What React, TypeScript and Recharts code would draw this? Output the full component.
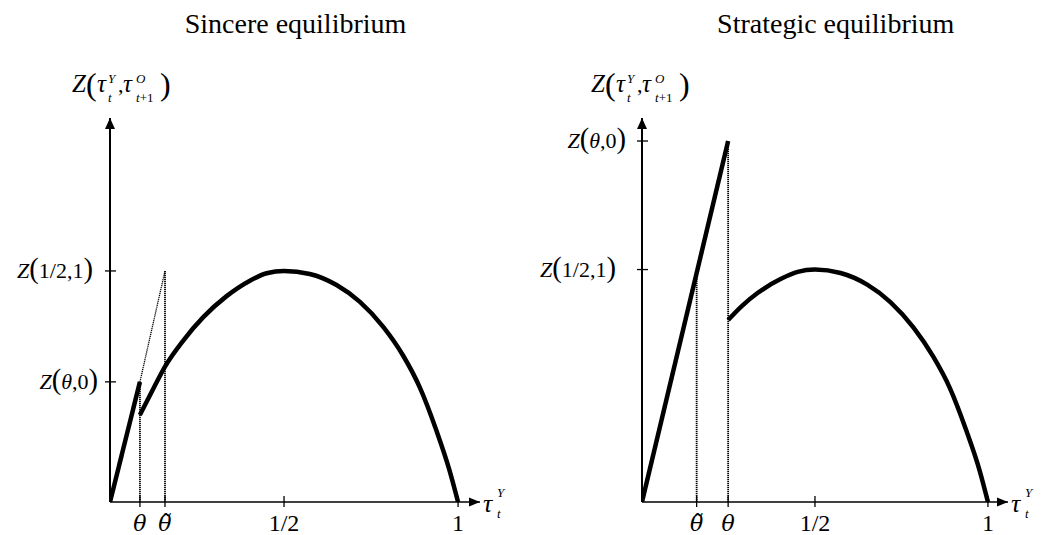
import React from 'react'
import { LineChart, Line, XAxis, YAxis, ReferenceDot } from 'recharts'

const FONT = '"Liberation Serif", "Times New Roman", serif'
const GREEK_FONT = '"DejaVu Serif", "Liberation Serif", serif'

// Sincere equilibrium (left panel)
const sincereXTicks = [0.086, 0.158, 0.5, 1]
const sincereXLabels = ['θ', 'θ̃', '1/2', '1']
const sincereYTicks = [0.52, 1]
const sincereYLabels = ['Z(θ,0)', 'Z(1/2,1)']
const sincereRiseX = [0, 0.086]
const sincereRiseZ = [0, 0.52]
const sincereGuideX = [0.086, 0.158]
const sincereGuideZ = [0.52, 1]
const sincereDropX = [0.086, 0.158]
const sincereDropTop = [0.52, 1]
const sincereCurveX = [0.086, 0.124, 0.158, 0.211, 0.268, 0.335, 0.402, 0.45, 0.5, 0.574, 0.651, 0.718, 0.785, 0.842, 0.89, 0.938, 0.976, 1]
const sincereCurveZ = [0.377, 0.489, 0.586, 0.7, 0.8, 0.891, 0.958, 0.99, 1, 0.987, 0.939, 0.866, 0.758, 0.634, 0.496, 0.308, 0.134, 0]

// Strategic equilibrium (right panel)
const strategicXTicks = [0.158, 0.249, 0.5, 1]
const strategicXLabels = ['θ̃', 'θ', '1/2', '1']
const strategicYTicks = [1.553, 1]
const strategicYLabels = ['Z(θ,0)', 'Z(1/2,1)']
const strategicRiseX = [0, 0.249]
const strategicRiseZ = [0, 1.553]
const strategicDropX = [0.158, 0.249]
const strategicDropTop = [0.985, 1.553]
const strategicCurveX = [0.249, 0.29, 0.335, 0.402, 0.45, 0.5, 0.574, 0.651, 0.718, 0.785, 0.842, 0.89, 0.938, 0.976, 1]
const strategicCurveZ = [0.783, 0.845, 0.9, 0.96, 0.99, 1, 0.985, 0.935, 0.86, 0.75, 0.625, 0.49, 0.305, 0.135, 0]

const pts = (xs: number[], zs: number[]) => xs.map((x, i) => ({ x, z: zs[i] }))

function MathText({ x, y, anchor, text, size = 22 }: any) {
  return (
    <text x={x} y={y} textAnchor={anchor} fontFamily={FONT} fontSize={size} fill="#000">
      {Array.from(text as string).map((c, i) => {
        if (c === '(' || c === ')') return <tspan key={i} fontSize={size * 1.3}>{c}</tspan>
        if (c === 'Z' || c === 'θ') return <tspan key={i} fontStyle="italic">{c}</tspan>
        return <tspan key={i}>{c}</tspan>
      })}
    </text>
  )
}

function YTick(props: any) {
  const { x, y, index, labels, gaps } = props
  return (
    <g>
      <line x1={x - 5} x2={x + 6} y1={y} y2={y} stroke="#000" strokeWidth={1.3} />
      <MathText x={x - gaps[index]} y={y + 7} anchor="end" text={labels[index]} />
    </g>
  )
}

function XTick(props: any) {
  const { x, y, index, labels } = props
  const label: string = labels[index]
  const greek = label.startsWith('θ')
  return (
    <g>
      <line x1={x} x2={x} y1={y - 6} y2={y + 5} stroke="#000" strokeWidth={1.3} />
      <text x={x} y={y + 29} textAnchor="middle" fontFamily={greek ? GREEK_FONT : FONT}
        fontSize={greek ? 22 : 24} fontStyle={greek ? 'italic' : 'normal'} fill="#000">{label}</text>
    </g>
  )
}

const XArrow = (p: any) => {
  const { cx, cy } = p
  return (
    <g fontFamily={FONT} fill="#000">
      <path d={`M${cx},${cy} l-11,-4.5 l0,9 z`} />
      <text x={cx + 3} y={cy + 10} fontSize={26} fontStyle="italic">τ</text>
      <text x={cx + 17} y={cy - 5} fontSize={13} fontStyle="italic">Y</text>
      <text x={cx + 17} y={cy + 16} fontSize={13} fontStyle="italic">t</text>
    </g>
  )
}

const makeYArrow = (dx: number) => (p: any) => {
  const { cx, cy } = p
  const x = cx + dx
  return (
    <g fontFamily={FONT} fill="#000">
      <path d={`M${cx},${cy} l-5,11 l10,0 z`} />
      <text x={x - 38} y={cy - 26} fontSize={25} fontStyle="italic">Z</text>
      <text x={x - 24} y={cy - 23} fontSize={32}>(</text>
      <text x={x - 13} y={cy - 26} fontSize={25} fontStyle="italic">τ</text>
      <text x={x - 2} y={cy - 35} fontSize={13} fontStyle="italic">Y</text>
      <text x={x - 2} y={cy - 16} fontSize={13} fontStyle="italic">t</text>
      <text x={x + 8} y={cy - 26} fontSize={22}>,</text>
      <text x={x + 13} y={cy - 26} fontSize={25} fontStyle="italic">τ</text>
      <text x={x + 26} y={cy - 35} fontSize={13} fontStyle="italic">O</text>
      <text x={x + 26} y={cy - 16} fontSize={13}><tspan fontStyle="italic">t</tspan>+1</text>
      <text x={x + 50} y={cy - 23} fontSize={32}>)</text>
    </g>
  )
}

interface PanelProps {
  yAxisWidth: number
  marginRight: number
  xMax: number
  yMax: number
  xTicks: number[]
  xLabels: string[]
  yTicks: number[]
  yLabels: string[]
  yGaps: number[]
  titleDx: number
  rise: { x: number; z: number }[]
  guide?: { x: number; z: number }[]
  drops: { x: number; z: number }[][]
  curve: { x: number; z: number }[]
}

function Panel(p: PanelProps) {
  const thick = { stroke: '#000', strokeWidth: 4.5, dot: false, activeDot: false, isAnimationActive: false }
  const dotted = { stroke: '#000', strokeWidth: 1.8, strokeDasharray: '1.2 0.8', dot: false, activeDot: false, isAnimationActive: false }
  return (
    <LineChart width={522} height={535} margin={{ top: 118, right: p.marginRight, bottom: 0, left: 0 }}>
      <XAxis
        type="number"
        dataKey="x"
        domain={[0, p.xMax]}
        allowDataOverflow
        ticks={p.xTicks}
        interval={0}
        height={33}
        tickSize={0}
        tickMargin={0}
        axisLine={{ stroke: '#000', strokeWidth: 1.5 }}
        tick={(t: any) => <XTick {...t} labels={p.xLabels} />}
      />
      <YAxis
        type="number"
        dataKey="z"
        domain={[0, p.yMax]}
        allowDataOverflow
        ticks={p.yTicks}
        interval={0}
        width={p.yAxisWidth}
        tickSize={0}
        tickMargin={0}
        axisLine={{ stroke: '#000', strokeWidth: 2 }}
        tick={(t: any) => <YTick {...t} labels={p.yLabels} gaps={p.yGaps} />}
      />
      {p.drops.map((d, i) => (
        <Line key={'d' + i} data={d} dataKey="z" type="linear" {...dotted} />
      ))}
      {p.guide && <Line data={p.guide} dataKey="z" type="linear" {...dotted} strokeWidth={1.3} />}
      <Line data={p.rise} dataKey="z" type="linear" {...thick} />
      <Line data={p.curve} dataKey="z" type="monotone" {...thick} />
      <ReferenceDot x={p.xMax} y={0} r={0} ifOverflow="visible" shape={XArrow} />
      <ReferenceDot x={0} y={p.yMax} r={0} ifOverflow="visible" shape={makeYArrow(p.titleDx)} />
    </LineChart>
  )
}

const titleStyle: React.CSSProperties = {
  position: 'absolute',
  top: 9.5,
  width: 400,
  textAlign: 'center',
  fontFamily: FONT,
  fontSize: 28,
  lineHeight: '28px',
  color: '#000',
}

export default function App() {
  return (
    <div style={{ position: 'absolute', left: 0, top: 0, width: 1044, height: 535, background: '#fff' }}>
      <div style={{ ...titleStyle, left: 295.5 - 200 }}>Sincere equilibrium</div>
      <div style={{ ...titleStyle, left: 835.7 - 200 }}>Strategic equilibrium</div>
      <div style={{ position: 'absolute', left: 0, top: 0 }}>
        <Panel
          yAxisWidth={110}
          marginRight={42}
          xMax={1.063}
          yMax={1.662}
          xTicks={sincereXTicks}
          xLabels={sincereXLabels}
          yTicks={sincereYTicks}
          yLabels={sincereYLabels}
          yGaps={[12, 17]}
          titleDx={0}
          rise={pts(sincereRiseX, sincereRiseZ)}
          guide={pts(sincereGuideX, sincereGuideZ)}
          drops={sincereDropX.map((x, i) => pts([x, x], [0, sincereDropTop[i]]))}
          curve={pts(sincereCurveX, sincereCurveZ)}
        />
      </div>
      <div style={{ position: 'absolute', left: 522, top: 0 }}>
        <Panel
          yAxisWidth={120}
          marginRight={36}
          xMax={1.058}
          yMax={1.652}
          xTicks={strategicXTicks}
          xLabels={strategicXLabels}
          yTicks={strategicYTicks}
          yLabels={strategicYLabels}
          yGaps={[16, 26]}
          titleDx={-13}
          rise={pts(strategicRiseX, strategicRiseZ)}
          drops={strategicDropX.map((x, i) => pts([x, x], [0, strategicDropTop[i]]))}
          curve={pts(strategicCurveX, strategicCurveZ)}
        />
      </div>
    </div>
  )
}
